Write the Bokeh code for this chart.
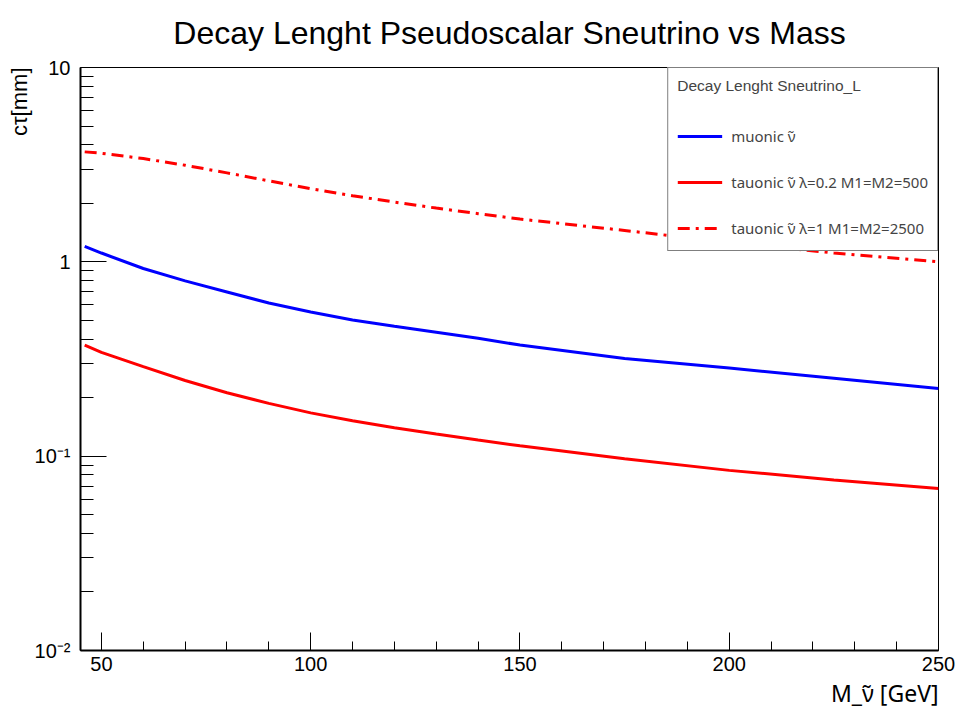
from bokeh.plotting import figure
from bokeh.models import FixedTicker, Legend, LegendItem, Range1d, Title
from bokeh.embed import file_html
from bokeh.resources import INLINE

# ---- data ----
mass = [46, 50, 60, 70, 80, 90, 100, 110, 120, 130, 140, 150, 175, 200, 225, 250]
ctau_muonic = [1.20, 1.11, 0.924, 0.798, 0.700, 0.614, 0.552, 0.502, 0.466, 0.434,
               0.404, 0.373, 0.318, 0.284, 0.252, 0.223]
ctau_tau_02 = [0.373, 0.342, 0.289, 0.245, 0.212, 0.187, 0.167, 0.152, 0.140, 0.130,
               0.121, 0.113, 0.0969, 0.0845, 0.0755, 0.0681]
ctau_tau_1 = [3.68, 3.62, 3.40, 3.14, 2.87, 2.61, 2.38, 2.19, 2.03, 1.89,
              1.77, 1.66, 1.45, 1.26, 1.11, 1.00]

series_labels = ["muonic ν̃", "tauonic ν̃ λ=0.2 M1=M2=500", "tauonic ν̃ λ=1 M1=M2=2500"]
legend_title = "Decay Lenght Sneutrino_L"
chart_title = "Decay Lenght Pseudoscalar Sneutrino vs Mass"
x_title = "M_ν̃ [GeV]"
y_title = "cτ[mm]"

x_major = [50, 100, 150, 200, 250]
x_minor = [60, 70, 80, 90, 110, 120, 130, 140, 160, 170, 180, 190, 210, 220, 230, 240]
y_major = [0.01, 0.1, 1, 10]
y_major_labels = ["10⁻²", "10⁻¹", "1", "10"]

X0, X1 = 45, 250
Y0, Y1 = 0.01, 10

FONT = "Liberation Sans"
GFONT = "Noto Sans"

FL, FR, FT, FB = 80, 938, 67, 650
W, H = 960, 709

p = figure(width=W, height=H, x_range=Range1d(X0, X1), y_range=Range1d(Y0, Y1),
           y_axis_type="log", output_backend="svg", toolbar_location=None,
           min_border_left=FL, min_border_right=W - FR,
           min_border_top=FT, min_border_bottom=H - FB)

p.title.text = chart_title
p.title.align = "center"
p.title.vertical_align = "top"
p.title.text_font = FONT
p.title.text_font_size = "32px"
p.title.text_font_style = "normal"
p.title.text_color = "black"
p.title.standoff = 29

p.xgrid.visible = False
p.ygrid.visible = False
p.outline_line_color = "black"
p.outline_line_width = 1
p.background_fill_color = "white"
p.border_fill_color = "white"

p.xaxis.ticker = FixedTicker(ticks=x_major, minor_ticks=x_minor)
p.yaxis.ticker = FixedTicker(ticks=y_major,
                             minor_ticks=[m * d for d in (0.01, 0.1, 1) for m in range(2, 10)])
p.yaxis.major_label_overrides = {v: s for v, s in zip(y_major, y_major_labels)}
for ax, mj, mn in ((p.xaxis, 18, 9), (p.yaxis, 26, 13)):
    ax.major_tick_in = mj
    ax.major_tick_out = 0
    ax.minor_tick_in = mn
    ax.minor_tick_out = 0
    ax.axis_line_width = 2
    ax.axis_line_color = "black"
    ax.major_tick_line_color = "black"
    ax.minor_tick_line_color = "black"
    ax.major_tick_line_width = 1
    ax.minor_tick_line_width = 1
    ax.major_label_text_font = FONT
    ax.major_label_text_font_size = "20px"
    ax.major_label_text_color = "black"
p.xaxis.major_label_standoff = 6
p.yaxis.major_label_standoff = 10

r1 = p.line(mass, ctau_muonic, line_color="#0000ff", line_width=3)
r2 = p.line(mass, ctau_tau_02, line_color="#ff0000", line_width=3)
r3 = p.line(mass, ctau_tau_1, line_color="#ff0000", line_width=3, line_dash="12 6 3 6")

legend = Legend(items=[LegendItem(label=series_labels[0], renderers=[r1]),
                       LegendItem(label=series_labels[1], renderers=[r2]),
                       LegendItem(label=series_labels[2], renderers=[r3])],
                title=legend_title, location="top_right")
legend.margin = 0
legend.padding = 9
legend.border_line_color = "black"
legend.border_line_width = 1
legend.background_fill_color = "white"
legend.background_fill_alpha = 1
legend.label_text_font = GFONT
legend.label_text_font_size = "15px"
legend.title_text_font = FONT
legend.title_text_font_size = "15.5px"
legend.title_text_font_style = "normal"
legend.title_standoff = 28
legend.glyph_width = 45
legend.glyph_height = 26
legend.label_height = 26
legend.spacing = 20
legend.label_standoff = 9
p.add_layout(legend)

xt = Title(text=x_title, align="right", text_font=GFONT, text_font_size="23px",
           text_font_style="normal", text_color="black", standoff=2)
p.add_layout(xt, "below")
yt = Title(text=y_title, align="right", text_font=FONT, text_font_size="22px",
           text_font_style="normal", text_color="black", standoff=0)
p.add_layout(yt, "left")

open("out.html", "w").write(file_html(p, INLINE))
